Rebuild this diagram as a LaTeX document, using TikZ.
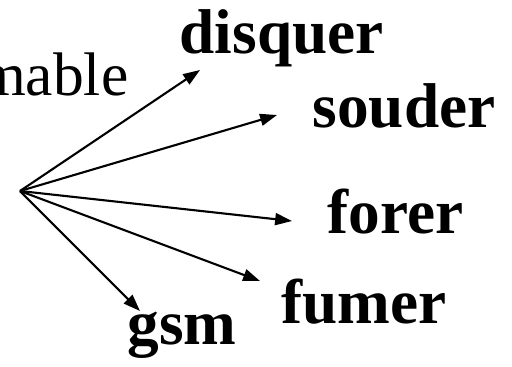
\documentclass[tikz,border=0pt]{standalone}
\usepackage{fontspec}
\setmainfont{Liberation Serif}
\usetikzlibrary{arrows.meta}
\tikzset{
    word/.style={inner sep=0pt, font=\fontsize{18}{21}\selectfont\bfseries},
    plain/.style={inner sep=0pt, font=\fontsize{17.5}{21}\selectfont},
    branch/.style={-{Triangle[length=4.8pt, width=3.4pt]}, line width=0.6pt}
}

\begin{document}
\begin{tikzpicture}
    \useasboundingbox (0,0) rectangle (5.12,3.66);
    \node[plain, anchor=base east] (mable) at (1.29,2.71) {mable};
    \node[word, anchor=base west] (disquer) at (1.79,3.13) {disquer};
    \node[word, anchor=base west] (souder) at (3.12,2.39) {souder};
    \node[word, anchor=base west] (forer) at (3.27,1.33) {forer};
    \node[word, anchor=base west] (fumer) at (2.81,0.43) {fumer};
    \node[word, anchor=base west] (gsm) at (1.27,0.22) {gsm};

    \coordinate (root) at (0.20,1.75);
    \coordinate (todisquer) at (2.00,2.96);
    \coordinate (tosouder) at (2.77,2.51);
    \coordinate (toforer) at (2.92,1.45);
    \coordinate (tofumer) at (2.60,0.85);
    \coordinate (togsm) at (1.40,0.55);
    \foreach \w in {disquer,souder,forer,fumer,gsm}{
        \draw[branch] (root) -- (to\w);
    }
\end{tikzpicture}
\end{document}
